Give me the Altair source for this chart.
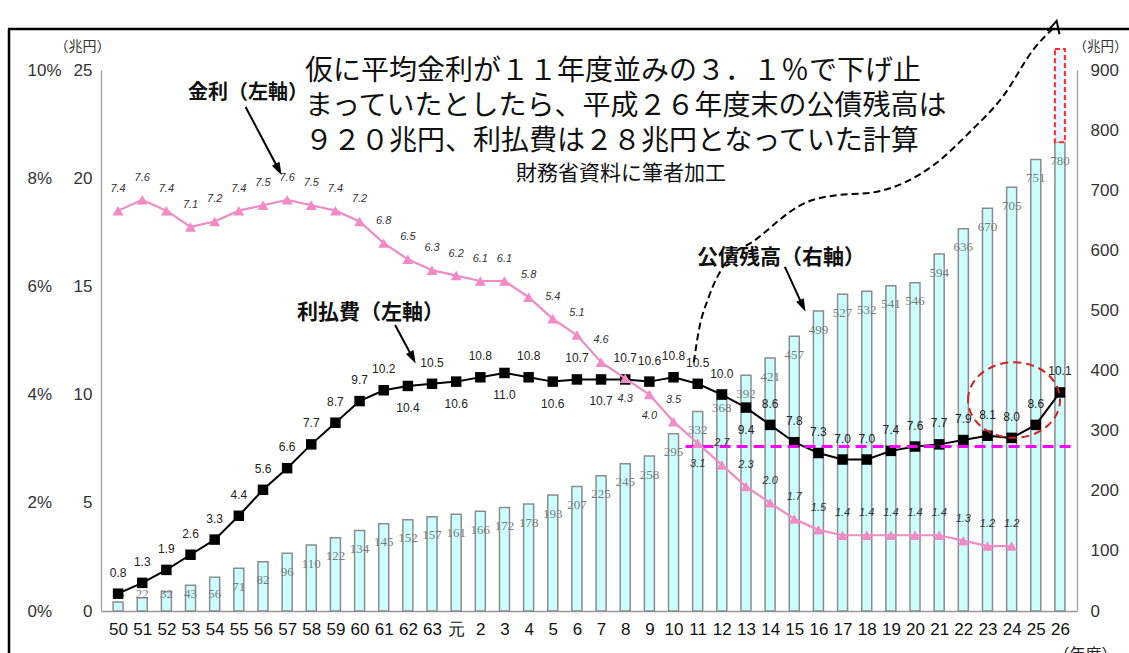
import json
import altair as alt
import pandas as pd

# ---------------- data ----------------
years = ["50", "51", "52", "53", "54", "55", "56", "57", "58", "59", "60", "61", "62", "63",
         "元", "2", "3", "4", "5", "6", "7", "8", "9", "10", "11", "12", "13", "14", "15",
         "16", "17", "18", "19", "20", "21", "22", "23", "24", "25", "26"]
# 利払費（兆円, left axis）
pay = [0.8, 1.3, 1.9, 2.6, 3.3, 4.4, 5.6, 6.6, 7.7, 8.7, 9.7, 10.2, 10.4, 10.5,
       10.6, 10.8, 11.0, 10.8, 10.6, 10.7, 10.7, 10.7, 10.6, 10.8,
       10.5, 10.0, 9.4, 8.6, 7.8, 7.3, 7.0, 7.0, 7.4, 7.6,
       7.7, 7.9, 8.1, 8.0, 8.6, 10.1]
# 金利（%, left axis）  FY50 .. FY24
rate = [7.4, 7.6, 7.4, 7.1, 7.2, 7.4, 7.5, 7.6, 7.5, 7.4, 7.2, 6.8, 6.5, 6.3,
        6.2, 6.1, 6.1, 5.8, 5.4, 5.1, 4.6, 4.3, 4.0, 3.5,
        3.1, 2.7, 2.3, 2.0, 1.7, 1.5, 1.4, 1.4, 1.4, 1.4,
        1.4, 1.3, 1.2, 1.2]
# 公債残高（兆円, right axis）
debt = [15, 22, 32, 43, 56, 71, 82, 96, 110, 122, 134, 145, 152, 157,
        161, 166, 172, 178, 193, 207, 225, 245, 258, 295,
        332, 368, 392, 421, 457, 499, 527, 532, 541, 546,
        594, 636, 670, 705, 751, 780]
hypo_top = 935          # dashed red extension of the FY26 bar (hypothetical ~920)
pay_label_below = ["62", "元", "3", "5", "7", "13"]
rate_label_below = ["8", "9", "11"]

# annotation geometry in data units (x = year index, y = 兆円 on left axis)
ref_level = 7.6
ref_x = [23.5, 39.5]
curve_x = [23.84, 24.05, 24.46, 25.15, 26.38, 28.43, 29.78, 31.13, 32.53, 33.88, 35.23, 36.62, 37.98, 38.8]
curve_y = [11.5, 12.98, 14.51, 16.08, 17.14, 18.85, 19.22, 19.32, 19.78, 20.70, 22.09, 23.75, 26.06, 27.0]
ellipse_xy = [37.1, 9.75]
arrow_ids = ["rate", "pay", "debt"]
arrow_x0 = [5.28, 11.47, 27.61]
arrow_y0 = [23.29, 13.22, 15.90]
arrow_x1 = [6.65, 12.2, 28.35]
arrow_y1 = [20.4, 11.7, 14.1]
arrow_angle = [153, 153, 155]

headline = ["仮に平均金利が１１年度並みの３．１％で下げ止",
            "まっていたとしたら、平成２６年度末の公債残高は",
            "９２０兆円、利払費は２８兆円となっていた計算"]

# ---------------- tables ----------------
n = len(years)
df = pd.DataFrame({
    "i": list(range(n)),
    "year": years,
    "pay": pay,
    "rate": rate + [None] * (n - len(rate)),
    "debt": debt,
})
df["pay_pos"] = ["below" if y in pay_label_below else "above" for y in years]
df["rate_pos"] = ["below" if y in rate_label_below else "above" for y in years]

hypo_df = pd.DataFrame({"i": [n - 1], "lo": [debt[-1]], "hi": [hypo_top]})
ref_df = pd.DataFrame({"i": [ref_x[0]], "x2": [ref_x[1]], "pay": [ref_level]})
curve_df = pd.DataFrame({"i": curve_x, "pay": curve_y})
tip_df = pd.DataFrame({"i": [curve_x[-1]], "pay": [curve_y[-1]]})
ell_df = pd.DataFrame({"i": [ellipse_xy[0]], "pay": [ellipse_xy[1]]})
arrow_lines = pd.DataFrame({
    "id": arrow_ids + arrow_ids,
    "i": arrow_x0 + arrow_x1,
    "pay": arrow_y0 + arrow_y1,
})
arrow_heads = pd.DataFrame({"i": arrow_x1, "pay": arrow_y1, "ang": arrow_angle})
one = pd.DataFrame({"a": [0]})

# ---------------- scales / axes ----------------
NUM = "Liberation Sans"
JP = "Noto Sans CJK JP"
x_scale = alt.Scale(domain=[-0.5, n - 0.5], nice=False, zero=False)
pay_scale = alt.Scale(domain=[0, 25], nice=False, zero=True)
rate_scale = alt.Scale(domain=[0, 10], nice=False, zero=True)
debt_scale = alt.Scale(domain=[0, 900], nice=False, zero=True)

x_axis = alt.Axis(values=list(range(n)),
                  labelExpr=json.dumps(years, ensure_ascii=False) + "[datum.value]",
                  ticks=False, grid=False, domainColor="#999", domainWidth=1.5,
                  labelFont=NUM, labelFontSize=17, labelColor="#111", labelPadding=10,
                  labelOverlap=False, labelFlush=False,
                  title="（年度）", titleFont=JP, titleFontSize=16, titleFontWeight="normal",
                  titleColor="#222", titleAngle=0, titleX=984, titleY=35,
                  titleAlign="center", titleBaseline="top")
left_axis = alt.Axis(orient="left", values=[0, 5, 10, 15, 20, 25], ticks=False, grid=False,
                     domainColor="#aaa", domainWidth=1.5,
                     labelFont=NUM, labelFontSize=17, labelColor="#333", labelPadding=9,
                     title="（兆円）", titleFont=JP, titleFontSize=14, titleFontWeight="normal",
                     titleColor="#333", titleAngle=0, titleX=-19, titleY=-24,
                     titleAlign="center", titleBaseline="middle")
pct_axis = alt.Axis(orient="left", offset=74, values=[0, 2, 4, 6, 8, 10],
                    labelExpr="datum.value + '%'", domain=False, ticks=False, grid=False,
                    labelAlign="left", labelPadding=0,
                    labelFont=NUM, labelFontSize=17, labelColor="#333", title="")
right_axis = alt.Axis(orient="right", values=list(range(0, 1000, 100)), ticks=False, grid=False,
                      domainColor="#aaa", domainWidth=1.5,
                      labelFont=NUM, labelFontSize=17, labelColor="#333", labelPadding=13,
                      title="（兆円）", titleFont=JP, titleFontSize=13.5, titleFontWeight="normal",
                      titleColor="#333", titleAngle=0, titleX=23, titleY=-24,
                      titleAlign="center", titleBaseline="middle")

X = alt.X("i:Q", scale=x_scale, axis=x_axis)
DY = lambda f: alt.Y(f, scale=debt_scale, axis=right_axis)
PY = lambda f: alt.Y(f, scale=pay_scale, axis=left_axis)
RY = lambda f: alt.Y(f, scale=rate_scale, axis=pct_axis)

# ---------------- debt bars (right axis) ----------------
bars = alt.Chart(df).mark_bar(size=10, fill="#ccffff", stroke="#8c8c8c", strokeWidth=1.5).encode(
    x=X, y=DY("debt:Q"))
hypo = alt.Chart(hypo_df).mark_bar(size=10, fill="#eaf3ff", stroke="#ff2a2a", strokeWidth=2,
                                   strokeDash=[5, 3]).encode(
    x=X, y=DY("lo:Q"), y2="hi:Q")
bar_labels = alt.Chart(df).transform_calculate(ly="max(datum.debt - 31, 28)").mark_text(
    font="Liberation Serif", fontSize=13, color="#7a7a7a", baseline="middle").encode(
    x=X, y=DY("ly:Q"), text="debt:Q")
group_debt = alt.layer(bars, hypo, bar_labels)

# ---------------- interest payments (left axis, 兆円) ----------------
pay_line = alt.Chart(df).mark_line(color="black", strokeWidth=2).encode(x=X, y=PY("pay:Q"))
pay_pts = alt.Chart(df).mark_point(shape="square", filled=True, size=110, color="black",
                                   opacity=1).encode(x=X, y=PY("pay:Q"))
pay_lab_a = alt.Chart(df).transform_filter("datum.pay_pos == 'above'").mark_text(
    font=NUM, fontSize=12, color="#222", dy=-21).encode(
    x=X, y=PY("pay:Q"), text=alt.Text("pay:Q", format=".1f"))
pay_lab_b = alt.Chart(df).transform_filter("datum.pay_pos == 'below'").mark_text(
    font=NUM, fontSize=12, color="#222", dy=22).encode(
    x=X, y=PY("pay:Q"), text=alt.Text("pay:Q", format=".1f"))
ref_rule = alt.Chart(ref_df).mark_rule(color="#ff00ff", strokeWidth=3, strokeDash=[11, 6]).encode(
    x=X, x2="x2:Q", y=PY("pay:Q"))
curve = alt.Chart(curve_df).mark_line(color="black", strokeWidth=2, strokeDash=[7, 4],
                                      interpolate="monotone").encode(x=X, y=PY("pay:Q"))
tip = alt.Chart(tip_df).mark_point(shape="M -1 1 L 0 -1 L 1 1", size=150, color="black",
                                   strokeWidth=2, opacity=1, angle=15).encode(x=X, y=PY("pay:Q"))
ellipse = alt.Chart(ell_df).mark_point(
    shape="M -1 0 A 1 0.82 0 1 1 1 0 A 1 0.82 0 1 1 -1 0 Z", size=8464,
    color="#d42020", strokeWidth=2, strokeDash=[8, 5], opacity=1).encode(x=X, y=PY("pay:Q"))
arr_lines = alt.Chart(arrow_lines).mark_line(color="black", strokeWidth=2).encode(
    x=X, y=PY("pay:Q"), detail="id:N")
arr_heads = alt.Chart(arrow_heads).mark_point(
    shape="M 0 -1 L 0.65 1 L -0.65 1 Z", filled=True, size=170, color="black", opacity=1).encode(
    x=X, y=PY("pay:Q"), angle=alt.Angle("ang:Q", scale=None))
group_pay = alt.layer(pay_line, pay_pts, pay_lab_a, pay_lab_b, ref_rule, curve, tip,
                      ellipse, arr_lines, arr_heads)

# ---------------- interest rate (left axis, %) ----------------
rdf = alt.Chart(df).transform_filter("isValid(datum.rate)")
PINK = "#f28ac5"
rate_line = rdf.mark_line(color=PINK, strokeWidth=2.2).encode(x=X, y=RY("rate:Q"))
rate_pts = rdf.mark_point(shape="triangle-up", filled=True, size=120, color=PINK,
                          opacity=1).encode(x=X, y=RY("rate:Q"))
rate_lab_a = rdf.transform_filter("datum.rate_pos == 'above'").mark_text(
    font=NUM, fontSize=11, fontStyle="italic", color="#333", dy=-22).encode(
    x=X, y=RY("rate:Q"), text=alt.Text("rate:Q", format=".1f"))
rate_lab_b = rdf.transform_filter("datum.rate_pos == 'below'").mark_text(
    font=NUM, fontSize=11, fontStyle="italic", color="#333", dy=21).encode(
    x=X, y=RY("rate:Q"), text=alt.Text("rate:Q", format=".1f"))
group_rate = alt.layer(rate_line, rate_pts, rate_lab_a, rate_lab_b)

# ---------------- free texts and frame ----------------
def txt(s, px, py, size, weight="normal", color="#111", baseline="middle"):
    return alt.Chart(one).mark_text(text=s, font=JP, fontSize=size, fontWeight=weight,
                                    color=color, align="left", baseline=baseline).encode(
        x=alt.value(px - 101), y=alt.value(py - 70))

texts = [
    txt(headline[0], 305, 72, 28),
    txt(headline[1], 305, 107, 28),
    txt(headline[2], 305, 142, 28),
    txt("財務省資料に筆者加工", 516, 174, 21),
    txt("金利（左軸）", 188, 93, 20, "bold"),
    txt("利払費（左軸）", 297, 313, 21, "bold"),
    txt("公債残高（右軸）", 697, 258, 21, "bold"),
]
frame_top = alt.Chart(one).mark_rule(color="black", strokeWidth=2.5).encode(
    x=alt.value(8 - 101), x2=alt.value(1129 - 101), y=alt.value(29 - 70))
frame_left = alt.Chart(one).mark_rule(color="black", strokeWidth=2.5).encode(
    x=alt.value(9 - 101), y=alt.value(29 - 70), y2=alt.value(653 - 70))

chart = alt.layer(group_debt, group_pay, group_rate, frame_top, frame_left, *texts).resolve_scale(
    y="independent"
).properties(
    width=976, height=541,
    padding={"left": 101, "top": 70, "right": 52, "bottom": 42},
    autosize=alt.AutoSizeParams(type="none"),
    background="white",
).configure_view(stroke=None)

chart.save("out.html", embed_options={"renderer": "svg", "actions": False})
